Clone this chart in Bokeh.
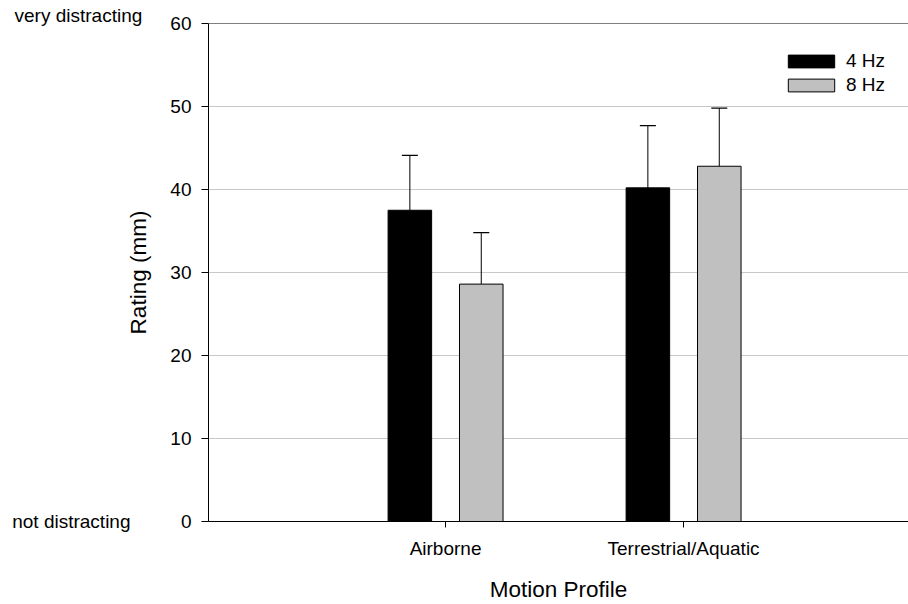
from bokeh.plotting import figure
from bokeh.models import (ColumnDataSource, FixedTicker, Whisker, TeeHead, Span,
                          Legend, LegendItem, Title, LinearAxis)
from bokeh.embed import file_html
from bokeh.resources import INLINE

# ---- data ----
categories = ["Airborne", "Terrestrial/Aquatic"]
series = ["4 Hz", "8 Hz"]
mean_4hz = [37.5, 40.2]
err_4hz = [6.6, 7.5]
mean_8hz = [28.6, 42.8]
err_8hz = [6.2, 7.0]
y_ticks = [0, 10, 20, 30, 40, 50, 60]
y_end_labels = ["not distracting", "very distracting"]

FONT = "Liberation Sans"
TICK_FS = "19px"
TITLE_FS = "22.5px"
cat_pos = [i + 1 for i in range(len(categories))]
offset = 0.15
bar_w = 0.183

p = figure(width=908, height=604, output_backend="svg", toolbar_location=None,
           x_range=(0.004, 2.945), y_range=(0, 60),
           min_border_left=208, min_border_right=0, min_border_top=23,
           min_border_bottom=83)
p.outline_line_color = None
p.background_fill_color = "white"
p.border_fill_color = "white"

src4 = ColumnDataSource(dict(x=[c - offset for c in cat_pos], top=mean_4hz,
                             up=[m + e for m, e in zip(mean_4hz, err_4hz)]))
src8 = ColumnDataSource(dict(x=[c + offset for c in cat_pos], top=mean_8hz,
                             up=[m + e for m, e in zip(mean_8hz, err_8hz)]))

for src in (src4, src8):
    p.add_layout(Whisker(source=src, base="x", lower="top", upper="up",
                         line_color="black", line_width=1,
                         upper_head=TeeHead(size=16, line_color="black", line_width=1.2),
                         lower_head=None, level="underlay"))

r4 = p.vbar(x="x", top="top", width=bar_w, source=src4, fill_color="black",
            line_color="black", line_width=1)
r8 = p.vbar(x="x", top="top", width=bar_w, source=src8, fill_color="#c0c0c0",
            line_color="black", line_width=1)

# top frame line
p.add_layout(Span(location=60, dimension="width", line_color="black", line_width=1))

# axes
p.xaxis.ticker = FixedTicker(ticks=cat_pos)
p.xaxis.major_label_overrides = {c: lab for c, lab in zip(cat_pos, categories)}
p.xaxis.axis_label = "Motion Profile"
p.yaxis.ticker = FixedTicker(ticks=y_ticks)
p.yaxis.axis_label = "Rating (mm)"
for ax in (p.xaxis, p.yaxis):
    ax.axis_line_color = "black"
    ax.axis_line_width = 1
    ax.major_tick_line_color = "black"
    ax.major_tick_in = 0
    ax.minor_tick_line_color = None
    ax.major_label_text_font = FONT
    ax.major_label_text_font_size = TICK_FS
    ax.major_label_text_color = "black"
    ax.axis_label_text_font = FONT
    ax.axis_label_text_font_size = TITLE_FS
    ax.axis_label_text_font_style = "normal"
    ax.axis_label_text_color = "black"
p.xaxis.major_tick_out = 6
p.xaxis.major_label_standoff = 10
p.xaxis.axis_label_standoff = 15
p.yaxis.major_tick_out = 7
p.yaxis.major_label_standoff = 10
p.yaxis.axis_label_standoff = 16

p.xgrid.grid_line_color = None
p.ygrid.grid_line_color = "#c8c8c8"
p.ygrid.grid_line_width = 1

# end labels of the rating scale
p.add_layout(Title(text=y_end_labels[1], align="left", offset=-194, standoff=-5,
                   text_font=FONT, text_font_size=TICK_FS,
                   text_font_style="normal", text_color="black"), "above")

end_axis = LinearAxis(ticker=FixedTicker(ticks=[y_ticks[0]]),
                      major_label_overrides={y_ticks[0]: y_end_labels[0]},
                      axis_line_color=None, major_tick_line_color=None,
                      minor_tick_line_color=None, major_tick_out=0, major_tick_in=0,
                      major_label_standoff=-7, major_label_text_font=FONT,
                      major_label_text_font_size=TICK_FS,
                      major_label_text_color="black")
p.add_layout(end_axis, "left")

legend = Legend(items=[LegendItem(label=series[0], renderers=[r4]),
                       LegendItem(label=series[1], renderers=[r8])],
                location=(574, 425), orientation="vertical",
                glyph_width=58, glyph_height=16, label_text_font=FONT,
                label_text_font_size=TICK_FS, label_text_color="black",
                label_standoff=6, spacing=2,
                padding=0, margin=0, border_line_color=None,
                background_fill_alpha=0)
p.add_layout(legend)

open("out.html", "w").write(file_html(p, INLINE))
